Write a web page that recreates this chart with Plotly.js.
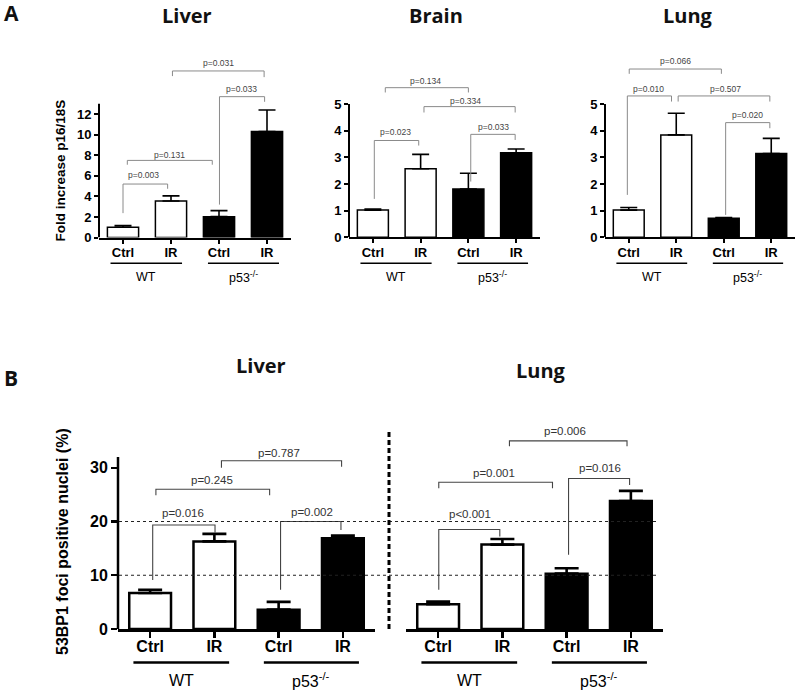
<!DOCTYPE html>
<html><head><meta charset="utf-8">
<script src="https://cdn.plot.ly/plotly-3.0.1.min.js"></script>
<style>body{margin:0;background:#fff}#chart{width:800px;height:693px}</style>
</head><body><div id="chart"></div>
<script>
// ---------- data ----------
const categories = ['Ctrl', 'IR', 'Ctrl', 'IR'];
const groupLabels = ['WT', 'p53<sup>-/-</sup>'];
const fillColors = ['white', 'white', 'black', 'black'];

const liverA = [1.0, 3.55, 2.03, 10.3];
const liverAErr = [0.17, 0.5, 0.58, 2.1];
const brainA = [1.02, 2.57, 1.81, 3.17];
const brainAErr = [0.04, 0.54, 0.59, 0.14];
const lungA = [1.02, 3.84, 0.71, 3.14];
const lungAErr = [0.1, 0.81, 0.03, 0.57];
const liverB = [6.7, 16.3, 3.6, 16.9];
const liverBErr = [0.6, 1.4, 1.45, 0.5];
const lungB = [4.6, 15.7, 10.3, 23.8];
const lungBErr = [0.5, 1.05, 1.0, 1.9];

const ticksLiverA = [0, 2, 4, 6, 8, 10, 12];
const ticksFive = [0, 1, 2, 3, 4, 5];
const ticksB = [0, 10, 20, 30];
const refLinesB = [10, 20];

// brackets: [x1, x2, top, leftEnd, rightEnd, label, labelX, labelY]
const liverABr = [
  [1.03, 2.94, 16.2, 15.7, 15.6, 'p=0.031', 1.98, 16.95],
  [2.01, 2.95, 13.7, 3.2, 13.2, 'p=0.033', 2.47, 14.4],
  [0.09, 1.86, 7.5, 7.08, 7.08, 'p=0.131', 0.96, 8.05],
  [0.0, 0.93, 5.2, 2.37, 4.74, 'p=0.003', 0.43, 6.04]
];
const brainABr = [
  [0.26, 2.0, 5.61, 5.43, 5.43, 'p=0.134', 1.1, 5.86],
  [1.07, 2.98, 4.9, 4.68, 4.68, 'p=0.334', 1.95, 5.12],
  [0.03, 0.96, 3.63, 1.44, 3.44, 'p=0.023', 0.48, 3.96],
  [2.05, 2.98, 3.86, 2.09, 3.65, 'p=0.033', 2.52, 4.15]
];
const lungABr = [
  [0.01, 1.95, 6.31, 6.13, 6.13, 'p=0.066', 0.99, 6.61],
  [-0.03, 0.9, 5.3, 1.59, 5.09, 'p=0.010', 0.41, 5.55],
  [1.04, 2.97, 5.3, 5.09, 5.09, 'p=0.507', 2.04, 5.55],
  [2.04, 2.97, 4.3, 0.84, 4.09, 'p=0.020', 2.51, 4.59]
];
const liverBBr = [
  [1.11, 2.98, 31.3, 30.0, 30.2, 'p=0.787', 2.0, 32.8],
  [0.09, 1.86, 26.0, 24.9, 24.9, 'p=0.245', 0.96, 27.7],
  [0.04, 1.01, 19.35, 9.1, 17.9, 'p=0.016', 0.51, 21.6],
  [2.03, 2.97, 20.0, 7.3, 18.4, 'p=0.002', 2.52, 21.8]
];
const lungBBr = [
  [1.11, 2.94, 35.0, 34.0, 34.0, 'p=0.006', 1.97, 36.8],
  [0.01, 1.78, 27.3, 26.2, 26.2, 'p=0.001', 0.87, 29.0],
  [2.03, 2.98, 28.0, 13.8, 26.8, 'p=0.016', 2.52, 29.9],
  [0.01, 0.96, 18.5, 7.3, 17.2, 'p<0.001', 0.50, 21.4]
];

// ---------- layout helpers ----------
const W = 800, H = 693;
const px = v => v / W;
const py = v => 1 - v / H;
const ARIAL = 'Liberation Sans, Arial, Helvetica, sans-serif';
const TITLEF = 'Open Sans, Noto Sans, sans-serif';

const styleA = {tick: 13, cat: 13, grp: 12.5, p: 8.5, barLine: 1.5, errT: 1.6, errW: 8.5, axW: 2, tickLen: 4, br: '#8a8a8a', brW: 1, ulW: 1.6, ulY: 263.3, grpY: 277, catStand: -2, pCol: '#444'};
const styleB = {tick: 16, cat: 16, grp: 16, p: 11.5, barLine: 2.5, errT: 2.6, errW: 12, axW: 2.5, tickLen: 6, br: '#444', brW: 1.1, ulW: 2.6, ulY: 662.5, grpY: 680, catStand: -5, pCol: '#333'};

const panels = [
  {vals: liverA, errs: liverAErr, br: liverABr, x0: 99, x1: 291, ybot: 237.5, ppu: 10.28, ymax: 17, ticks: ticksLiverA, axTop: 13, s: styleA, showY: true},
  {vals: brainA, errs: brainAErr, br: brainABr, x0: 349, x1: 540, ybot: 237.3, ppu: 26.67, ymax: 6.3, ticks: ticksFive, axTop: 5, s: styleA, showY: true},
  {vals: lungA, errs: lungAErr, br: lungABr, x0: 605, x1: 795, ybot: 237.3, ppu: 26.67, ymax: 6.9, ticks: ticksFive, axTop: 5, s: styleA, showY: true},
  {vals: liverB, errs: liverBErr, br: liverBBr, x0: 118, x1: 375, ybot: 629, ppu: 5.375, ymax: 33, ticks: ticksB, axTop: 32, s: styleB, showY: true},
  {vals: lungB, errs: lungBErr, br: lungBBr, x0: 406, x1: 663, ybot: 629, ppu: 5.375, ymax: 40, ticks: ticksB, axTop: 32, s: styleB, showY: false}
];

const data = [];
const layout = {
  width: W, height: H, margin: {l: 0, r: 0, t: 0, b: 0},
  paper_bgcolor: 'white', plot_bgcolor: 'rgba(0,0,0,0)',
  showlegend: false, hovermode: false,
  shapes: [], annotations: []
};

panels.forEach((p, i) => {
  const n = i === 0 ? '' : String(i + 1);
  const xa = 'x' + n, ya = 'y' + n;
  const s = p.s;
  data.push({
    type: 'bar', x: [0, 1, 2, 3], y: p.vals, xaxis: xa, yaxis: ya, width: 0.65,
    marker: {color: fillColors, line: {color: 'black', width: s.barLine}},
    error_y: {type: 'data', symmetric: false, array: p.errs, arrayminus: p.errs.map(() => 0),
              color: 'black', thickness: s.errT, width: s.errW},
    cliponaxis: false
  });
  layout['xaxis' + n] = {
    domain: [px(p.x0), px(p.x1)], range: [-0.5, 3.5], anchor: ya,
    tickvals: [0, 1, 2, 3], ticktext: categories,
    ticks: 'outside', ticklen: s.tickLen, tickwidth: s.axW, tickcolor: 'black',
    ticklabelstandoff: s.catStand,
    showline: true, linewidth: s.axW, linecolor: 'black',
    showgrid: false, zeroline: false, fixedrange: true,
    tickfont: {family: ARIAL, size: s.cat, color: 'black', weight: 'bold'}
  };
  layout['yaxis' + n] = {
    domain: [py(p.ybot), py(p.ybot - p.ymax * p.ppu)], range: [0, p.ymax], anchor: xa,
    visible: p.showY,
    tickvals: p.ticks, ticktext: p.ticks.map(String),
    ticks: 'outside', ticklen: s.tickLen, tickwidth: s.axW, tickcolor: 'black',
    showline: false, showgrid: false, zeroline: false, fixedrange: true,
    tickfont: {family: ARIAL, size: s.tick, color: 'black', weight: 'bold'}
  };
  if (p.showY) {
    layout.shapes.push({type: 'line', xref: xa + ' domain', yref: ya, x0: 0, x1: 0, y0: 0, y1: p.axTop,
                        line: {color: 'black', width: s.axW}});
  }
  // group underlines and labels
  [[-0.26, 1.23], [1.77, 3.25]].forEach((seg, g) => {
    layout.shapes.push({type: 'line', xref: xa, yref: 'paper', x0: seg[0], x1: seg[1], y0: py(s.ulY), y1: py(s.ulY),
                        line: {color: 'black', width: s.ulW}});
    layout.annotations.push({xref: xa, yref: 'paper', x: (seg[0] + seg[1]) / 2, y: py(s.grpY),
                             text: groupLabels[g], showarrow: false, xanchor: 'center', yanchor: 'middle',
                             font: {family: ARIAL, size: s.grp, color: 'black'}});
  });
  // significance brackets
  p.br.forEach(b => {
    const [x1, x2, top, le, re, lab, lx, ly] = b;
    layout.shapes.push({type: 'path', xref: xa, yref: ya,
      path: `M ${x1},${le} L ${x1},${top} L ${x2},${top} L ${x2},${re}`,
      line: {color: s.br, width: s.brW}});
    layout.annotations.push({xref: xa, yref: ya, x: lx, y: ly, text: lab, showarrow: false,
      xanchor: 'center', yanchor: 'middle', font: {family: ARIAL, size: s.p, color: s.pCol}});
  });
});

// reference dotted lines in panel B (drawn through the B liver y scale)
refLinesB.forEach(v => {
  layout.shapes.push({type: 'line', xref: 'paper', yref: 'y4', x0: px(119), x1: px(658), y0: v, y1: v,
                      line: {color: '#222', width: 1.1, dash: 'dot'}});
});
// vertical dashed separator
layout.shapes.push({type: 'line', xref: 'paper', yref: 'paper', x0: px(389), x1: px(389), y0: py(629), y1: py(432),
                    line: {color: 'black', width: 3, dash: '5px,3px'}});

// titles and panel letters
const titles = [
  ['Liver', 187, 16], ['Brain', 436, 16], ['Lung', 688, 16],
  ['Liver', 261, 365], ['Lung', 541, 370]
];
titles.forEach(t => layout.annotations.push({xref: 'paper', yref: 'paper', x: px(t[1]), y: py(t[2]), text: t[0],
  showarrow: false, xanchor: 'center', yanchor: 'middle', font: {family: TITLEF, size: 20, color: '#111', weight: 'bold'}}));
[['A', 11, 13], ['B', 11, 378]].forEach(t => layout.annotations.push({xref: 'paper', yref: 'paper', x: px(t[1]), y: py(t[2]),
  text: t[0], showarrow: false, xanchor: 'center', yanchor: 'middle', font: {family: TITLEF, size: 21, color: '#111', weight: 'bold'}}));
// y-axis titles
layout.annotations.push({xref: 'paper', yref: 'paper', x: px(60), y: py(170.5), text: 'Fold increase p16/18S',
  textangle: -90, showarrow: false, xanchor: 'center', yanchor: 'middle', font: {family: ARIAL, size: 13.5, color: 'black', weight: 'bold'}});
layout.annotations.push({xref: 'paper', yref: 'paper', x: px(62), y: py(542), text: '53BP1 foci positive nuclei (%)',
  textangle: -90, showarrow: false, xanchor: 'center', yanchor: 'middle', font: {family: ARIAL, size: 16, color: 'black', weight: 'bold'}});

Plotly.newPlot('chart', data, layout, {staticPlot: true, displayModeBar: false});
</script>
</body></html>
